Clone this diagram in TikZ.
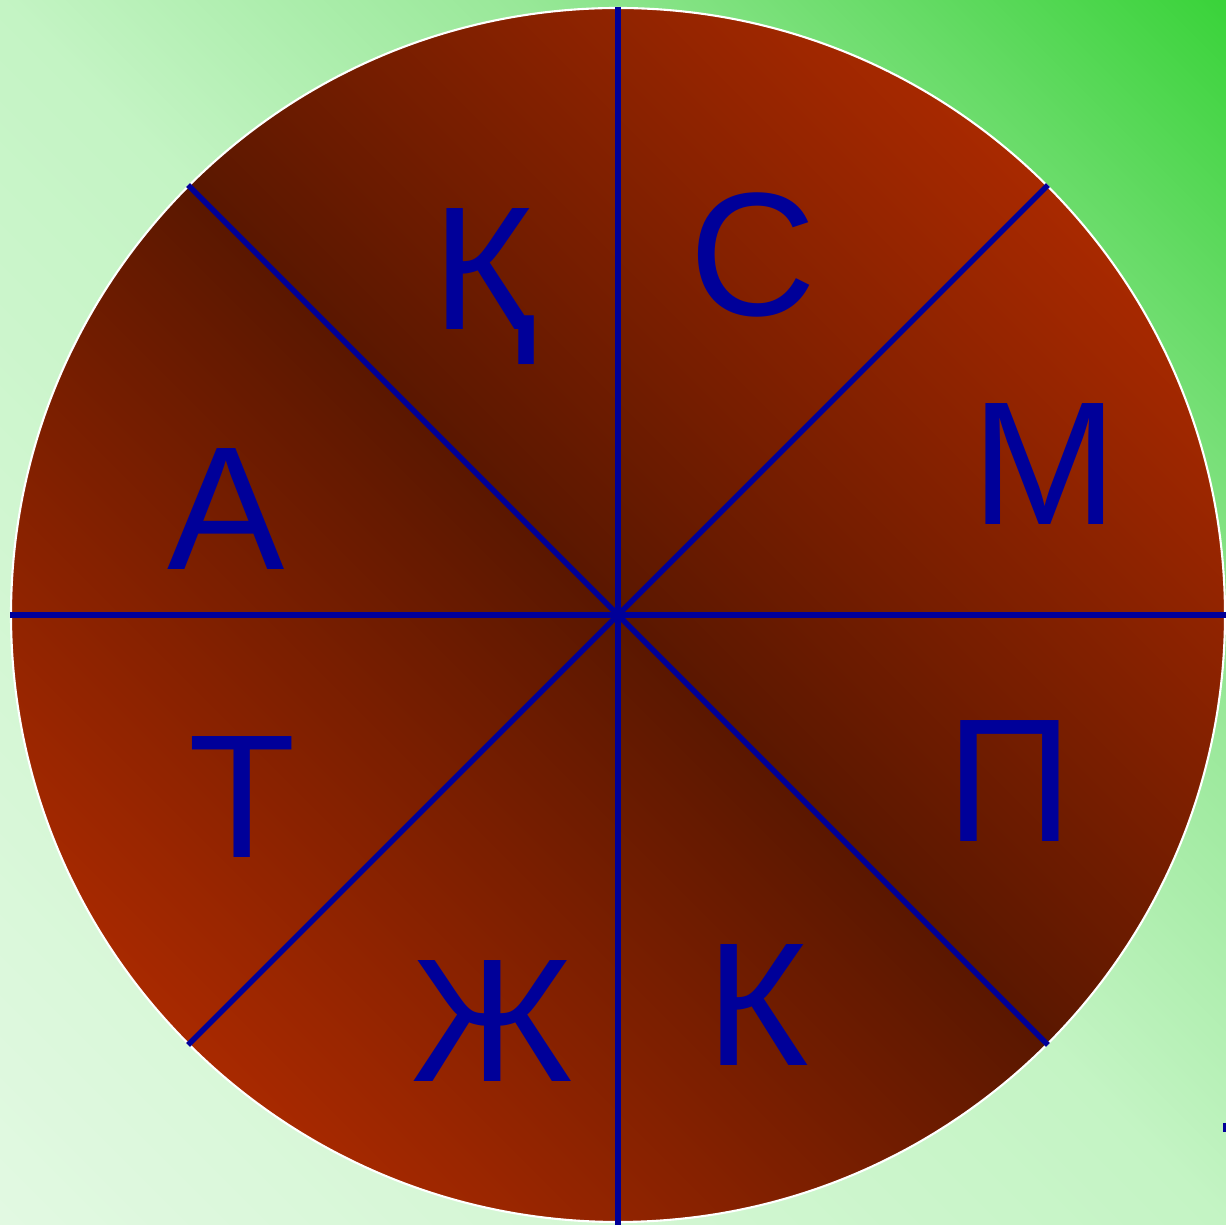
\documentclass[tikz,border=0pt]{standalone}
\usepackage{fontspec}
\setmainfont{Liberation Sans}
\usepackage{tikz}
\usetikzlibrary{calc}

\definecolor{wheellight}{HTML}{A82900}
\definecolor{wheeldark}{HTML}{5A1700}
\definecolor{bgpale}{HTML}{E2F9E2}
\definecolor{bgmid}{HTML}{C4F4C4}
\definecolor{bgsoft}{HTML}{98E898}
\definecolor{bgbright}{HTML}{62DA62}
\definecolor{bgdeep}{HTML}{3AD33A}
\definecolor{letterblue}{HTML}{000099}

\pgfdeclarehorizontalshading{wheelshade}{100bp}{color(0bp)=(wheellight); color(25bp)=(wheellight); color(50bp)=(wheeldark); color(75bp)=(wheellight); color(100bp)=(wheellight)}
\pgfdeclarehorizontalshading{bgshade}{100bp}{color(0bp)=(bgpale); color(14.6bp)=(bgpale); color(50bp)=(bgmid); color(65bp)=(bgsoft); color(77bp)=(bgbright); color(85.4bp)=(bgdeep); color(100bp)=(bgdeep)}

\tikzset{
  spoke/.style={letterblue,line width=1.6pt},
  letter/.style={anchor=base,inner sep=0pt,text=letterblue,font=\fontsize{50}{50}\selectfont}
}

\begin{document}
\begin{tikzpicture}[x=0.01cm,y=-0.01cm]
  \useasboundingbox (0,0) rectangle (1226,1225);
  \shade[shading=bgshade,shading angle=45] (0,0) rectangle (1226,1225);
  % wheel
  \coordinate (c) at (618,615);
  \shade[shading=wheelshade,shading angle=45] (c) circle[radius=607];
  \draw[white,line width=0.6pt] (c) circle[radius=607];
  \foreach \a in {0,45,...,315}
    \coordinate (p\a) at ($(c)+(\a:608)$);
  \coordinate (pr) at (1226,615);
  \coordinate (pb) at (618,1225);
  \draw[spoke] (p180) -- (pr);
  \draw[spoke] (p270) -- (pb);
  \draw[spoke] (p45) -- (p225);
  \draw[spoke] (p135) -- (p315);
  % letters
  \node[letter] (kq) at (484,330) {Қ};
  \node[letter] (es) at (753,316) {С};
  \node[letter] (em) at (1045,525) {М};
  \node[letter] (pe) at (1010,842) {П};
  \node[letter] (ka) at (758,1066) {К};
  \node[letter] (zhe) at (493,1082) {Ж};
  \node[letter] (te) at (242,858) {Т};
  \node[letter] (a) at (226,570) {А};
  \fill[letterblue] (1222.5,1123) rectangle (1226,1132);
\end{tikzpicture}
\end{document}
